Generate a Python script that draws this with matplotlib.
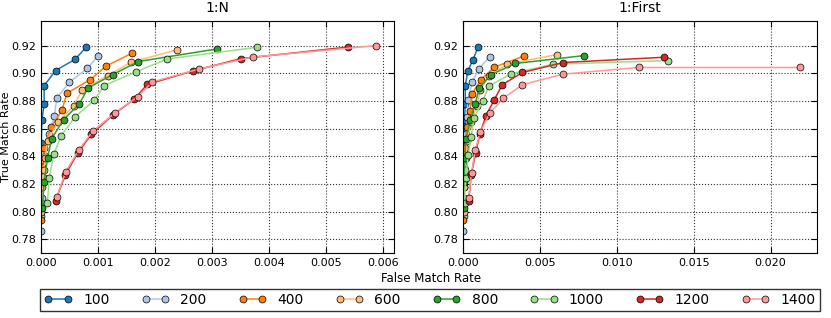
import matplotlib
matplotlib.use("Agg")
import matplotlib.pyplot as plt

# --- thresholds (legend labels) and colours ---
labels = ["100", "200", "400", "600", "800", "1000", "1200", "1400"]
colors = ["#1f77b4", "#aec7e8", "#ff7f0e", "#ffbb78",
          "#2ca02c", "#98df8a", "#d62728", "#ff9896"]

# --- 1:N panel (FMR, TMR) ---
n_fmr = [
    [0, 0, 0.00001, 0.00002, 0.00006, 0.00006, 0.00026, 0.0006, 0.0008],
    [0, 0.00001, 0.00002, 0.00004, 0.00008, 0.00014, 0.00024, 0.00028, 0.0005, 0.00082, 0.00101],
    [0, 0.000005, 0.00001, 0.00002, 0.00005, 0.00018, 0.00037, 0.00046, 0.00087, 0.00115, 0.00161],
    [0.00001, 0.00003, 0.00005, 0.00008, 0.00012, 0.0003, 0.00058, 0.00073, 0.00118, 0.00158, 0.0024],
    [0.00003, 0.00006, 0.00012, 0.00019, 0.0004, 0.00068, 0.00083, 0.00126, 0.00171, 0.00309],
    [0.000117, 0.00015, 0.00023, 0.00036, 0.0006, 0.00094, 0.00111, 0.00168, 0.00222, 0.0038],
    [0.00026, 0.00043, 0.00065, 0.00089, 0.00126, 0.00164, 0.00187, 0.00267, 0.00351, 0.0054],
    [0.00028, 0.00044, 0.00067, 0.00091, 0.0013, 0.0017, 0.00196, 0.00277, 0.00373, 0.00589],
]
n_tmr = [
    [0.82, 0.835, 0.850, 0.866, 0.878, 0.891, 0.902, 0.910, 0.919],
    [0.786, 0.797, 0.81, 0.825, 0.84, 0.856, 0.869, 0.882, 0.8935, 0.9036, 0.9128],
    [0.794, 0.806, 0.818, 0.832, 0.846, 0.861, 0.8733, 0.8856, 0.8955, 0.9053, 0.9147],
    [0.80, 0.818, 0.830, 0.839, 0.851, 0.8646, 0.8767, 0.8882, 0.8983, 0.908, 0.917],
    [0.803, 0.8218, 0.8387, 0.8526, 0.8666, 0.878, 0.8894, 0.899, 0.9085, 0.9176],
    [0.806, 0.8247, 0.8415, 0.855, 0.8685, 0.8805, 0.8911, 0.9012, 0.9104, 0.9188],
    [0.808, 0.8266, 0.8425, 0.856, 0.8697, 0.8813, 0.892, 0.9017, 0.9106, 0.919],
    [0.8105, 0.829, 0.8447, 0.858, 0.8714, 0.883, 0.8938, 0.903, 0.9118, 0.920],
]

# --- 1:First panel (FMR, TMR) ---
f_fmr = [
    [0, 0, 0.00005, 0.00008, 0.00013, 0.00013, 0.0003, 0.00063, 0.00096],
    [0, 0.00002, 0.00004, 0.00008, 0.00013, 0.0002, 0.00026, 0.0003, 0.00059, 0.001, 0.00174],
    [0, 0.00001, 0.00003, 0.00006, 0.0001, 0.00022, 0.00043, 0.00057, 0.00115, 0.002, 0.00398],
    [0.00002, 0.00005, 0.0001, 0.00015, 0.00025, 0.0005, 0.0009, 0.0011, 0.0017, 0.00287, 0.00609],
    [0.00002, 0.00005, 0.0001, 0.00017, 0.00046, 0.00078, 0.00104, 0.00178, 0.00339, 0.00785],
    [0.00008, 0.00015, 0.00033, 0.0005, 0.00072, 0.00126, 0.00167, 0.00313, 0.00587, 0.01333],
    [0.00035, 0.00052, 0.0008, 0.00107, 0.00148, 0.00202, 0.00254, 0.00385, 0.0065, 0.01307],
    [0.00035, 0.00054, 0.00078, 0.00111, 0.00172, 0.00261, 0.00385, 0.0065, 0.01141, 0.02191],
]
f_tmr = [
    [0.82, 0.835, 0.85, 0.866, 0.878, 0.891, 0.902, 0.9097, 0.919],
    [0.786, 0.797, 0.81, 0.825, 0.84, 0.856, 0.8685, 0.881, 0.8937, 0.9032, 0.9121],
    [0.794, 0.806, 0.818, 0.832, 0.846, 0.861, 0.873, 0.8853, 0.8954, 0.9044, 0.9126],
    [0.80, 0.818, 0.83, 0.839, 0.851, 0.8646, 0.8767, 0.8882, 0.898, 0.9068, 0.9135],
    [0.803, 0.8218, 0.8387, 0.8525, 0.8664, 0.8779, 0.8894, 0.8989, 0.9071, 0.9128],
    [0.806, 0.8245, 0.8413, 0.8542, 0.868, 0.88, 0.8908, 0.8997, 0.9066, 0.9092],
    [0.808, 0.8264, 0.8425, 0.8559, 0.8695, 0.881, 0.8918, 0.9006, 0.9078, 0.9116],
    [0.81, 0.8283, 0.8446, 0.8578, 0.8712, 0.882, 0.8918, 0.8994, 0.9042, 0.9042],
]

fig = plt.figure(figsize=(8.31, 3.18), dpi=100)
ax1 = fig.add_axes([0.049, 0.2035, 0.4252, 0.7314])
ax2 = fig.add_axes([0.5575, 0.2035, 0.4253, 0.7314])

handles = []
for ax, xs, ys, title, xmax in [(ax1, n_fmr, n_tmr, "1:N", 0.0062),
                                 (ax2, f_fmr, f_tmr, "1:First", 0.023)]:
    for i in range(len(labels)):
        h, = ax.plot(xs[i], ys[i], "-o", color=colors[i], lw=1.1, ms=5,
                     mec="black", mew=0.5, label=labels[i])
        if ax is ax1:
            handles.append(h)
    ax.set_xlim(0, xmax)
    ax.set_ylim(0.77, 0.938)
    ax.set_yticks([0.78, 0.80, 0.82, 0.84, 0.86, 0.88, 0.90, 0.92])
    ax.grid(True, linestyle=":", color="black", lw=0.8, alpha=0.8)
    ax.tick_params(direction="in", top=True, right=True, labelsize=8, length=4)
    ax.set_title(title, fontsize=10)

ax1.set_xticks([0, 0.001, 0.002, 0.003, 0.004, 0.005, 0.006])
ax1.set_xticklabels(["0.000", "0.001", "0.002", "0.003", "0.004", "0.005", "0.006"])
ax2.set_xticks([0, 0.005, 0.01, 0.015, 0.02])
ax2.set_xticklabels(["0.000", "0.005", "0.010", "0.015", "0.020"])

ax1.set_ylabel("True Match Rate", fontsize=8)
ax1.yaxis.set_label_coords(-0.084, 0.5)
fig.text(431 / 831, 1 - 278 / 318, "False Match Rate", ha="center", va="center", fontsize=8.5)

leg = fig.legend(handles, labels, loc="lower left",
                 bbox_to_anchor=(40 / 831, 1 - 311 / 318, 780 / 831, 22 / 318),
                 mode="expand", ncol=8, numpoints=2, fancybox=False,
                 borderaxespad=0, fontsize=10, handlelength=2,
                 borderpad=0.3)
leg.get_frame().set_edgecolor("black")
leg.get_frame().set_linewidth(1.0)

fig.savefig("out.png", dpi=100)
